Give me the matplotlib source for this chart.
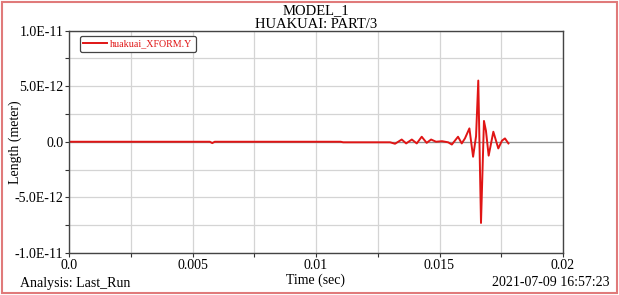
import matplotlib.pyplot as plt
from matplotlib.patches import Rectangle
from matplotlib.ticker import MultipleLocator, FixedLocator

# time (sec) and displacement (x1e-12 meter)
time_s = [0.0, 0.0057, 0.0058, 0.0059, 0.0110, 0.0111, 0.0130,
          0.0132, 0.01347, 0.01365, 0.01388, 0.01408, 0.01428, 0.01448,
          0.01466, 0.01486, 0.0151, 0.01535, 0.0155, 0.01575, 0.0159,
          0.01603, 0.01621, 0.01636, 0.01648, 0.01657, 0.01668, 0.0168,
          0.01688, 0.01699, 0.01718, 0.01738, 0.01753, 0.01765, 0.01779]
length_e12 = [0.0, 0.0, -0.12, 0.0, 0.0, -0.05, -0.05,
              -0.18, 0.2, -0.15, 0.2, -0.15, 0.45, -0.1,
              0.2, 0.0, 0.05, -0.05, -0.25, 0.45, -0.15,
              0.3, 1.2, -1.35, 0.5, 5.5, -7.3, 1.87,
              1.0, -1.25, 0.9, -0.6, 0.1, 0.3, -0.15]
length_m = [v * 1e-12 for v in length_e12]

x_ticks = [0.0, 0.005, 0.01, 0.015, 0.02]
x_labels = ['0.0', '0.005', '0.01', '0.015', '0.02']
y_ticks = [-1e-11, -5e-12, 0.0, 5e-12, 1e-11]
y_labels = ['-1.0E-11', '-5.0E-12', '0.0', '5.0E-12', '1.0E-11']

plt.rcParams['font.family'] = ['Liberation Serif', 'DejaVu Serif']
plt.rcParams['font.size'] = 10

fig = plt.figure(figsize=(6.19, 2.95), dpi=100)
ax = fig.add_axes([69/619, 1-253/295, (563-69)/619, (253-30.5)/295])

ax.plot(time_s, length_m, color='#e01515', lw=1.4, label='huakuai_XFORM.Y')

ax.set_xlim(0, 0.02)
ax.set_ylim(-1e-11, 1e-11)
ax.xaxis.set_major_locator(FixedLocator(x_ticks))
ax.set_xticklabels(x_labels)
ax.yaxis.set_major_locator(FixedLocator(y_ticks))
ax.set_yticklabels(y_labels)
ax.xaxis.set_minor_locator(MultipleLocator(0.0025))
ax.yaxis.set_minor_locator(MultipleLocator(2.5e-12))
ax.grid(True, which='both', color='#d4d4d4', lw=0.9)
ax.axhline(0, color='#909090', lw=0.9, zorder=1)
ax.set_axisbelow(True)
ax.tick_params(which='both', direction='out', length=3, width=0.8,
               color='#333333', labelsize=10, pad=1)
for s in ax.spines.values():
    s.set_color('#444444')
    s.set_linewidth(1.0)

ax.set_ylabel('Length (meter)', fontsize=10)
ax.yaxis.set_label_coords(-47/494, 0.5)

leg = ax.legend(loc='upper left', fontsize=7.2, frameon=True, fancybox=True,
                handlelength=2.4, borderpad=0.35, handletextpad=0.3,
                bbox_to_anchor=(0.012, 1.0))
leg.get_frame().set_edgecolor('#444444')
leg.get_frame().set_linewidth(0.9)
leg.get_frame().set_alpha(1)
for txt in leg.get_texts():
    txt.set_color('#e01515')

fig.text(316/619, 1-11/295, 'MODEL_1', ha='center', va='center', fontsize=10.5)
fig.text(316/619, 1-24/295, 'HUAKUAI: PART/3', ha='center', va='center', fontsize=10.5)
fig.text(316/619, 1-280/295, 'Time (sec)', ha='center', va='center', fontsize=10)
fig.text(20/619, 1-283/295, 'Analysis: Last_Run', ha='left', va='center', fontsize=10)
fig.text(610/619, 1-283/295, '2021-07-09 16:57:23', ha='right', va='center', fontsize=10)

fig.patches.append(Rectangle((2/619, 2/295), 615/619, 291/295, transform=fig.transFigure,
                             fill=False, edgecolor='#e07a7a', lw=1.5))

fig.savefig('out.png', dpi=100)
